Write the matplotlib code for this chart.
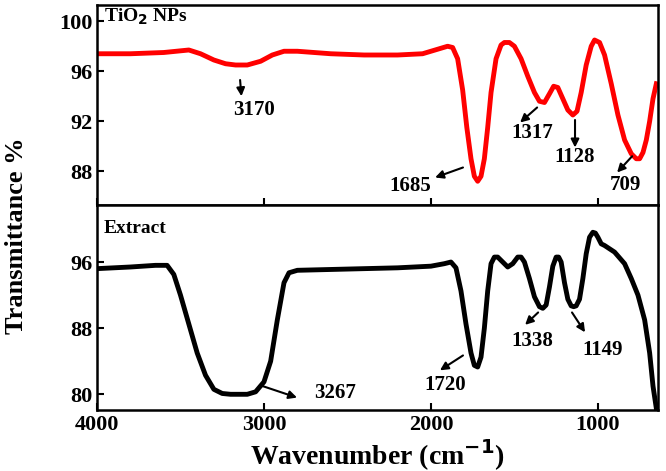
import matplotlib
matplotlib.use("Agg")
import matplotlib.pyplot as plt

wn_tio2 = [4000,3800,3600,3450,3380,3300,3230,3170,3100,3020,2950,2880,2800,2600,2400,2200,2050,1950,1900,1870,1840,1810,1785,1760,1740,1720,1700,1680,1660,1640,1610,1580,1560,1530,1500,1460,1420,1380,1350,1320,1290,1265,1240,1210,1180,1150,1125,1100,1070,1040,1020,990,960,920,880,840,800,770,750,730,710,690,670,650]
tr_tio2 = [97.4,97.4,97.5,97.7,97.4,96.9,96.6,96.5,96.5,96.8,97.3,97.6,97.6,97.4,97.3,97.3,97.4,97.8,98.0,97.9,97.0,94.5,91.5,89.0,87.6,87.2,87.6,89.0,91.5,94.3,97.0,98.1,98.3,98.3,98.0,97.0,95.6,94.3,93.6,93.5,94.2,94.8,94.7,93.8,92.9,92.5,92.8,94.3,96.5,98.0,98.5,98.3,97.3,95.0,92.5,90.5,89.4,89.0,89.0,89.5,90.5,92.0,93.8,95.0]

wn_ext = [4000,3800,3650,3580,3540,3500,3450,3400,3350,3300,3250,3200,3150,3100,3050,3000,2960,2920,2880,2850,2800,2600,2400,2200,2000,1920,1880,1850,1820,1790,1760,1740,1720,1700,1680,1660,1640,1620,1600,1570,1540,1510,1480,1460,1440,1410,1380,1350,1330,1310,1290,1270,1250,1235,1220,1200,1180,1160,1145,1130,1110,1090,1070,1050,1030,1015,1000,980,960,930,900,870,840,800,760,720,690,670,650]
tr_ext = [95.2,95.4,95.6,95.6,94.5,92.0,88.5,85.0,82.3,80.6,80.1,80.0,80.0,80.0,80.3,81.5,84.0,89.0,93.5,94.7,95.0,95.1,95.2,95.3,95.5,95.8,96.0,95.3,92.5,88.5,85.0,83.5,83.3,84.5,88.0,92.5,95.8,96.6,96.6,96.0,95.4,95.8,96.6,96.6,96.0,94.0,91.8,90.6,90.4,90.8,93.0,95.5,96.6,96.6,96.0,93.5,91.5,90.7,90.6,90.7,91.5,94.0,97.0,99.0,99.6,99.5,99.0,98.2,98.0,97.6,97.2,96.5,95.8,94.0,92.0,89.0,85.0,81.0,78.3]

plt.rcParams["font.family"] = "Liberation Serif"
plt.rcParams["font.weight"] = "bold"

fig = plt.figure(figsize=(6.66, 4.71), dpi=100)
ax1 = fig.add_axes([97/666, 1-205/471, 561/666, 200/471])
ax2 = fig.add_axes([97/666, 1-410/471, 561/666, 205/471], sharex=ax1)

ax1.plot(wn_tio2, tr_tio2, color="#ff0000", lw=3.5)
ax2.plot(wn_ext, tr_ext, color="black", lw=3.5)

ax1.set_xlim(4000, 640)
ax1.set_ylim(85.3, 101.3)
ax1.set_yticks([88, 92, 96, 100])
ax2.set_ylim(78.1, 102.9)
ax2.set_yticks([80, 88, 96])
ax2.set_xticks([4000, 3000, 2000, 1000])
ax1.tick_params(labelbottom=False)

for ax in (ax1, ax2):
    for s in ax.spines.values():
        s.set_linewidth(1.8)
    ax.tick_params(direction="in", width=1.5, length=5, labelsize=16)
    for t in ax.get_yticklabels() + ax.get_xticklabels():
        t.set_fontweight("bold")

ax2.set_xlabel("Wavenumber (cm$^{\\mathbf{-1}}$)", fontsize=20, fontweight="bold", labelpad=2)
fig.text(0.025, 0.5, "Transmittance %", rotation=90, va="center", ha="center", fontsize=19, fontweight="bold")

ax1.text(3960, 100.0, "TiO$_\\mathbf{2}$ NPs", fontsize=14, fontweight="bold")
ax2.text(3960, 99.5, "Extract", fontsize=14, fontweight="bold")

ap = dict(arrowstyle="-|>", color="black", lw=1.5, mutation_scale=12, shrinkA=0, shrinkB=0)
fs = 15

def ann(ax, txt, tail, head, pos):
    ax.annotate("", xy=head, xytext=tail, arrowprops=ap)
    ax.text(pos[0], pos[1], txt, fontsize=fs, fontweight="bold", ha="center", va="center")

ann(ax1, "3170", (3143, 95.3), (3135, 94.0), (3060, 92.9))
ann(ax1, "1685", (1808, 88.3), (1975, 87.5), (2125, 86.8))
ann(ax1, "1317", (1364, 93.1), (1466, 91.9), (1394, 91.1))
ann(ax1, "1128", (1137, 92.1), (1137, 89.9), (1137, 89.1))
ann(ax1, "709", (795, 89.2), (885, 87.9), (837, 86.9))

ann(ax2, "3267", (3024, 81.1), (2802, 79.6), (2574, 80.1))
ann(ax2, "1720", (1808, 84.7), (1946, 82.9), (1916, 81.1))
ann(ax2, "1338", (1358, 89.9), (1436, 88.4), (1394, 86.5))
ann(ax2, "1149", (1155, 89.9), (1077, 87.5), (969, 85.3))

fig.savefig("out.png", dpi=100)
